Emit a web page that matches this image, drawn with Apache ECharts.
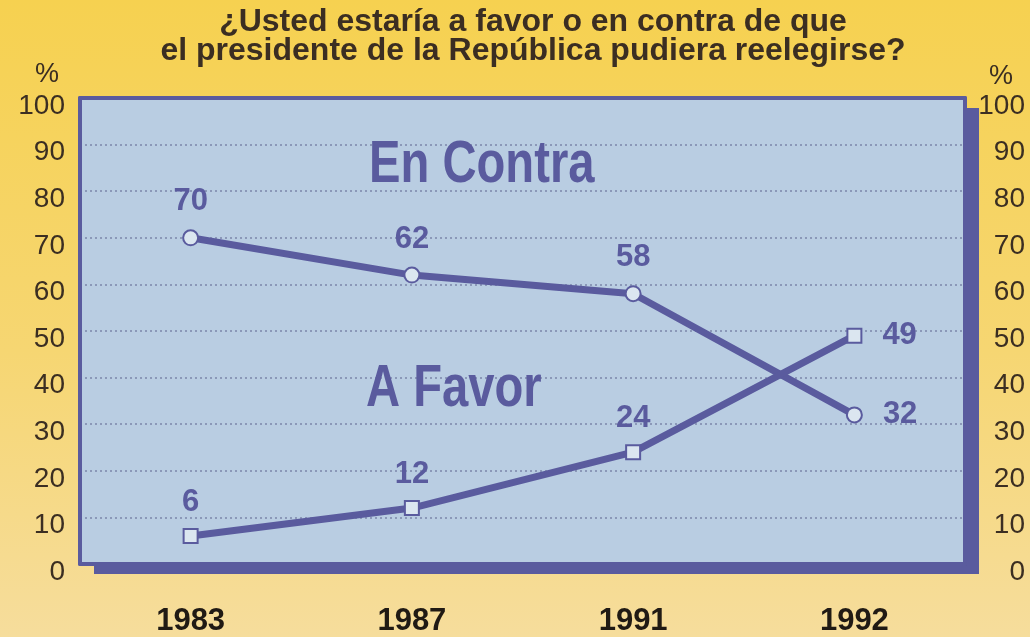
<!DOCTYPE html>
<html>
<head>
<meta charset="utf-8">
<script src="https://cdn.jsdelivr.net/npm/echarts@6/dist/echarts.min.js"></script>
<style>
  html, body { margin: 0; padding: 0; }
  #chart { width: 1030px; height: 637px; }
</style>
</head>
<body>
<div id="chart"></div>
<script>
// datos de la encuesta
const years = ['1983', '1987', '1991', '1992']
const enContra = [70, 62, 58, 32]
const aFavor = [6, 12, 24, 49]
const yTicks = [0, 10, 20, 30, 40, 50, 60, 70, 80, 90, 100]

const azul = '#5a5b9e'
const sans = '"Liberation Sans", Arial, sans-serif'
const tinta = '#3b2e22'

const chart = echarts.init(document.getElementById('chart'))

// la ultima etiqueta de cada serie va a la derecha del punto
function buildData (values) {
  return values.map(function (v, i) {
    if (i === values.length - 1) {
      return { value: v, label: { position: 'right', distance: 20 } }
    }
    return v
  })
}

const frameLine = { show: true, onZero: false, lineStyle: { color: azul, width: 4 } }

const option = {
  backgroundColor: {
    type: 'linear', x: 0, y: 0, x2: 0, y2: 1,
    colorStops: [
      { offset: 0, color: '#f6d150' },
      { offset: 0.55, color: '#f6d672' },
      { offset: 1, color: '#f6dd9c' }
    ]
  },
  title: [
    {
      text: '¿Usted estaría a favor o en contra de que\nel presidente de la República pudiera reelegirse?',
      left: 528,
      top: 3,
      textAlign: 'center',
      textStyle: {
        fontFamily: sans,
        fontWeight: 'bold',
        fontSize: 32,
        lineHeight: 29,
        color: tinta
      }
    },
    { text: '%', left: 30, top: 56, textStyle: { fontSize: 27, fontWeight: 'normal', color: tinta, fontFamily: sans } },
    { text: '%', left: 984, top: 58, textStyle: { fontSize: 27, fontWeight: 'normal', color: tinta, fontFamily: sans } }
  ],
  // rotulos grandes de cada serie
  graphic: [
    { type: 'text', x: 369, y: 136, scaleX: 0.8, z: 5, style: { text: 'En Contra', font: 'bold 59px "Liberation Sans", Arial, sans-serif', fill: azul } },
    { type: 'text', x: 366, y: 360, scaleX: 0.8, z: 5, style: { text: 'A Favor', font: 'bold 59px "Liberation Sans", Arial, sans-serif', fill: azul } }
  ],
  grid: {
    show: true,
    left: 80,
    right: 65,
    top: 98,
    bottom: 72,
    backgroundColor: '#b9cde2',
    borderWidth: 0,
    shadowColor: azul,
    shadowBlur: 0,
    shadowOffsetX: 14,
    shadowOffsetY: 10
  },
  xAxis: [
    {
      type: 'category',
      data: years,
      boundaryGap: true,
      axisLine: frameLine,
      axisTick: { show: false },
      axisLabel: {
        margin: 42,
        fontFamily: sans,
        fontWeight: 'bold',
        fontSize: 31,
        color: '#201a14'
      }
    },
    {
      type: 'category',
      data: years,
      position: 'top',
      axisLine: frameLine,
      axisTick: { show: false },
      axisLabel: { show: false }
    }
  ],
  yAxis: [
    {
      type: 'value',
      min: yTicks[0],
      max: yTicks[yTicks.length - 1],
      interval: 10,
      axisLine: frameLine,
      axisTick: { show: false },
      splitLine: {
        show: true,
        lineStyle: { color: '#7c87ab', width: 1.5, type: [2, 3] }
      },
      axisLabel: {
        margin: 15,
        fontSize: 28,
        color: tinta,
        fontFamily: sans,
        verticalAlign: 'top',
        lineHeight: 16
      }
    },
    {
      type: 'value',
      min: yTicks[0],
      max: yTicks[yTicks.length - 1],
      interval: 10,
      position: 'right',
      axisLine: frameLine,
      axisTick: { show: false },
      splitLine: { show: false },
      axisLabel: {
        margin: 60,
        align: 'right',
        fontSize: 28,
        color: tinta,
        fontFamily: sans,
        verticalAlign: 'top',
        lineHeight: 16
      }
    }
  ],
  series: [
    {
      name: 'En Contra',
      type: 'line',
      data: buildData(enContra),
      symbol: 'circle',
      symbolSize: 15,
      lineStyle: { color: azul, width: 7 },
      itemStyle: { color: '#dbe6f0', borderColor: azul, borderWidth: 2 },
      label: {
        show: true,
        position: 'top',
        distance: 12,
        fontFamily: sans,
        fontWeight: 'bold',
        fontSize: 31,
        color: azul
      },
      z: 3
    },
    {
      name: 'A Favor',
      type: 'line',
      data: buildData(aFavor),
      symbol: 'rect',
      symbolSize: 14,
      lineStyle: { color: azul, width: 7 },
      itemStyle: { color: '#dbe6f0', borderColor: azul, borderWidth: 2 },
      label: {
        show: true,
        position: 'top',
        distance: 10,
        fontFamily: sans,
        fontWeight: 'bold',
        fontSize: 31,
        color: azul
      },
      z: 3
    }
  ]
}

chart.setOption(option)
</script>
</body>
</html>
